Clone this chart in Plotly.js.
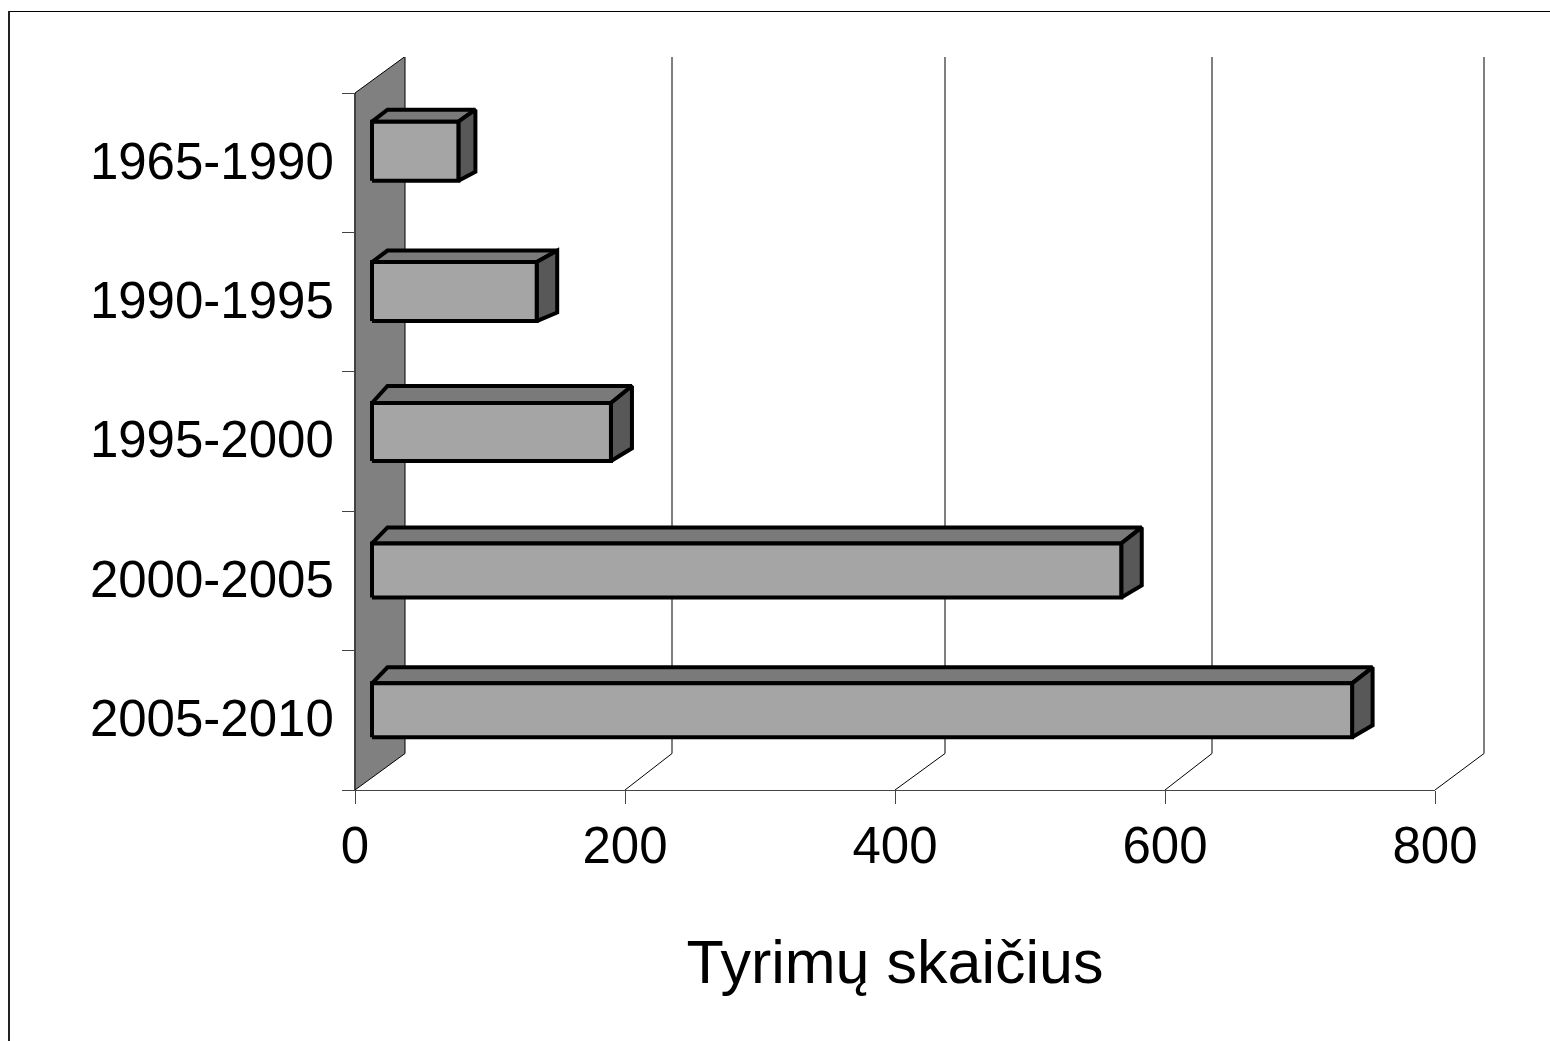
<!DOCTYPE html>
<html>
<head>
<meta charset="utf-8">
<script src="https://cdn.plot.ly/plotly-3.0.1.min.js"></script>
<style>html,body{margin:0;padding:0;background:#fff;overflow:hidden}#chart{width:1550px;height:1041px}</style>
</head>
<body>
<div id="chart"></div>
<script>
// Data (top to bottom in the picture is last to first here)
const categories = ["2005-2010", "2000-2005", "1995-2000", "1990-1995", "1965-1990"];
const studyCounts = [726, 555, 177, 122, 64];
const xTicks = [0, 200, 400, 600, 800];
const axisTitle = "Tyrimų skaičius";

// Plot frame (pixels) and the fake 3-D projection, expressed through the axis scales
const W = 1550, H = 1041, L = 355, R = 1435, T = 93, B = 790;
const OUTER_R = 1485, OUTER_T = 57;
const pxX = (R - L) / 800, pxY = (B - T) / categories.length;
const dx = p => p / pxX, dy = p => p / pxY;
const wallDx = dx(50), wallDy = dy(36.5);
const gridDepth = [47, 50, 47, 49];
const barInset = dx(17);
const barLeftDepth = 15.5;
const barSideDepth = [20.5, 20.5, 21, 20.5, 17];
const barTopDepth = [16, 16, 17, 11.5, 12];
const barLift = [10, 10.5, 9.5, 10.5, 11.5];
const barThickness = [54, 54, 58, 59, 59];
const yMin = -0.5, yMax = categories.length - 0.5;

const ax = {xaxis: "x2", yaxis: "y2"};
const poly = (x, y, fill, line, width) => ({
  type: "scatter", mode: "lines", x, y, fill: "toself", fillcolor: fill, ...ax,
  line: {color: line, width, shape: "linear"}, hoverinfo: "skip", showlegend: false
});
const path = (x, y) => ({
  type: "scatter", mode: "lines", x, y, line: {color: "#000", width: 1}, ...ax,
  hoverinfo: "skip", showlegend: false
});

const traces = [];
// invisible carrier for the visible axes
traces.push({type: "scatter", mode: "none", x: xTicks, y: xTicks.map(() => 0), hoverinfo: "skip", showlegend: false});
// side wall
traces.push(poly([0, wallDx, wallDx, 0, 0],
                 [yMin, yMin + wallDy, yMax + wallDy, yMax, yMin], "#808080", "#000", 1));
// gridlines
xTicks.slice(1).forEach((v, k) => {
  const d = dx(gridDepth[k]);
  traces.push(path([v, v + d, v + d], [yMin, yMin + wallDy, yMin + (B - OUTER_T) / pxY]));
});
// bars
studyCounts.forEach((v, i) => {
  const h = dy(barThickness[i]);
  const sx = dx(barSideDepth[i]), sy = dy(barTopDepth[i]), lx = dx(barLeftDepth);
  const x0 = barInset, x1 = barInset + v;
  const c = i + dy(barLift[i]);
  const y0 = c - h / 2, y1 = c + h / 2;
  const lw = 4;
  traces.push(poly([x0, x1, x1 + sx, x0 + lx, x0],
                   [y1, y1, y1 + sy, y1 + sy, y1], "#7a7a7a", "#000", lw));
  traces.push(poly([x1, x1 + sx, x1 + sx, x1, x1],
                   [y0, y0 + sy * 0.75, y1 + sy, y1, y0], "#585858", "#000", lw));
  traces.push(poly([x0, x1, x1, x0, x0],
                   [y0, y0, y1, y1, y0], "#a5a5a5", "#000", lw));
});

const font = "'Liberation Sans', Arial, sans-serif";
const outerW = OUTER_R - L, outerH = B - OUTER_T;
const px2x = p => (p - L) / outerW;
const px2y = p => (B - p) / outerH;

const layout = {
  width: W, height: H,
  margin: {l: L, r: W - OUTER_R, t: OUTER_T, b: H - B, pad: 0},
  paper_bgcolor: "#fff", plot_bgcolor: "rgba(0,0,0,0)",
  showlegend: false,
  font: {family: font, color: "#000"},
  xaxis: {
    domain: [0, (R - L) / outerW], anchor: "y",
    range: [0, 800], tickvals: xTicks, ticktext: xTicks.map(String),
    showgrid: false, zeroline: false, showline: true, linecolor: "#444", linewidth: 1,
    ticks: "outside", ticklen: 13, tickcolor: "#444", tickwidth: 1,
    ticklabelstandoff: -2,
    tickfont: {size: 51, family: font, color: "#000"},
    title: {text: axisTitle, font: {size: 61, family: font, color: "#000"}, standoff: 67}
  },
  yaxis: {
    domain: [0, (B - T) / outerH], anchor: "x",
    range: [yMin, yMax], tickvals: categories.map((_, i) => i + dy(2)), ticktext: categories,
    showgrid: false, zeroline: false, showline: true, linecolor: "#444", linewidth: 1,
    ticks: "", ticklabelstandoff: 10,
    tickfont: {size: 51, family: font, color: "#000"},
    minor: {
      tickvals: [-0.5, 0.5, 1.5, 2.5, 3.5, 4.5],
      ticks: "outside", ticklen: 12, tickcolor: "#444", tickwidth: 1, showgrid: false
    }
  },
  // invisible axes spanning the whole drawing area, same scale as the visible ones
  xaxis2: {domain: [0, 1], anchor: "y2", range: [0, outerW / pxX], visible: false, fixedrange: true},
  yaxis2: {domain: [0, 1], anchor: "x2", range: [yMin, yMin + outerH / pxY], visible: false, fixedrange: true},
  shapes: [
    {type: "line", xref: "paper", yref: "paper", x0: px2x(8.5), x1: px2x(W), y0: px2y(11.5), y1: px2y(11.5),
     line: {color: "#000", width: 1}},
    {type: "line", xref: "paper", yref: "paper", x0: px2x(9), x1: px2x(9), y0: px2y(11), y1: px2y(H),
     line: {color: "#222", width: 2}}
  ]
};

Plotly.newPlot("chart", traces, layout, {displayModeBar: false, responsive: false});
</script>
</body>
</html>
